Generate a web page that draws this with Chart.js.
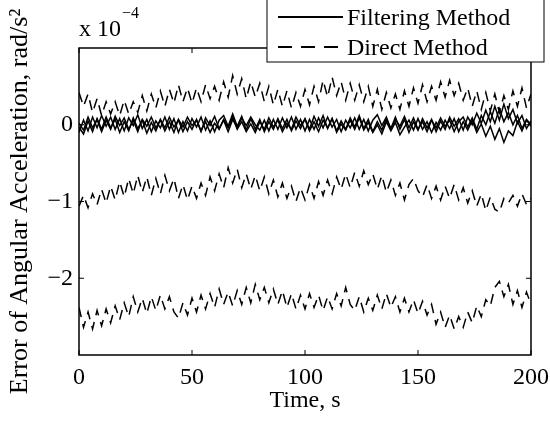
<!DOCTYPE html>
<html>
<head>
<meta charset="utf-8">
<script src="https://cdn.jsdelivr.net/npm/chart.js@4.4.0/dist/chart.umd.min.js"></script>
<style>
  html, body { margin: 0; padding: 0; background: #fff; }
</style>
</head>
<body>
<canvas id="grafico" width="550" height="422"></canvas>
<script>
// tempo (s)
const tempo = [
  0, 2, 4, 6, 8, 10, 12, 14, 16, 18,
  20, 22, 24, 26, 28, 30, 32, 34, 36, 38,
  40, 42, 44, 46, 48, 50, 52, 54, 56, 58,
  60, 62, 64, 66, 68, 70, 72, 74, 76, 78,
  80, 82, 84, 86, 88, 90, 92, 94, 96, 98,
  100, 102, 104, 106, 108, 110, 112, 114, 116, 118,
  120, 122, 124, 126, 128, 130, 132, 134, 136, 138,
  140, 142, 144, 146, 148, 150, 152, 154, 156, 158,
  160, 162, 164, 166, 168, 170, 172, 174, 176, 178,
  180, 182, 184, 186, 188, 190, 192, 194, 196, 198,
  200
];

// erro em unidades de 1e-4 rad/s^2 - metodo direto (tracejado)
const direto1 = [
  0.42, 0.24, 0.40, 0.16, 0.34, 0.12, 0.30, 0.14, 0.30, 0.12,
  0.32, 0.14, 0.30, 0.16, 0.38, 0.18, 0.40, 0.22, 0.44, 0.24,
  0.46, 0.28, 0.52, 0.30, 0.48, 0.28, 0.48, 0.30, 0.52, 0.34,
  0.50, 0.32, 0.56, 0.36, 0.64, 0.40, 0.60, 0.34, 0.56, 0.36,
  0.54, 0.30, 0.50, 0.26, 0.46, 0.24, 0.44, 0.22, 0.42, 0.24,
  0.46, 0.26, 0.50, 0.30, 0.58, 0.36, 0.62, 0.38, 0.56, 0.32,
  0.54, 0.32, 0.52, 0.30, 0.50, 0.24, 0.46, 0.20, 0.42, 0.22,
  0.40, 0.20, 0.44, 0.24, 0.48, 0.28, 0.52, 0.30, 0.50, 0.32,
  0.56, 0.36, 0.58, 0.38, 0.54, 0.32, 0.48, 0.24, 0.44, 0.20,
  0.42, 0.18, 0.40, 0.16, 0.38, 0.20, 0.44, 0.24, 0.48, 0.22,
  0.40
];
const direto2 = [
  -1.06, -0.92, -1.08, -0.90, -1.04, -0.84, -1.02, -0.80, -0.98, -0.74,
  -0.94, -0.70, -0.90, -0.66, -0.88, -0.68, -0.92, -0.70, -0.90, -0.66,
  -0.86, -0.70, -0.96, -0.78, -0.98, -0.80, -0.96, -0.76, -0.92, -0.68,
  -0.86, -0.64, -0.82, -0.56, -0.76, -0.58, -0.82, -0.64, -0.84, -0.66,
  -0.86, -0.68, -0.90, -0.72, -0.94, -0.76, -0.96, -0.80, -1.00, -0.82,
  -0.98, -0.78, -0.96, -0.74, -0.92, -0.72, -0.90, -0.68, -0.84, -0.64,
  -0.82, -0.62, -0.80, -0.60, -0.78, -0.64, -0.84, -0.66, -0.88, -0.72,
  -0.92, -0.76, -0.98, -0.78, -0.70, -0.86, -0.94, -0.78, -0.96, -0.80,
  -0.98, -0.80, -0.96, -0.78, -0.98, -0.82, -1.02, -0.86, -1.06, -0.90,
  -1.12, -0.94, -1.10, -1.14, -0.96, -1.02, -0.92, -1.06, -0.90, -1.04,
  -0.96
];
const direto3 = [
  -2.38, -2.64, -2.44, -2.66, -2.42, -2.62, -2.40, -2.58, -2.36, -2.54,
  -2.32, -2.50, -2.24, -2.44, -2.26, -2.46, -2.24, -2.42, -2.22, -2.40,
  -2.24, -2.44, -2.52, -2.32, -2.48, -2.26, -2.44, -2.22, -2.40, -2.20,
  -2.38, -2.14, -2.34, -2.18, -2.36, -2.16, -2.34, -2.12, -2.32, -2.08,
  -2.28, -2.12, -2.32, -2.14, -2.34, -2.16, -2.38, -2.20, -2.40, -2.22,
  -2.40, -2.20, -2.38, -2.22, -2.42, -2.24, -2.40, -2.20, -2.36, -2.12,
  -2.34, -2.42, -2.24, -2.44, -2.26, -2.42, -2.22, -2.40, -2.20, -2.38,
  -2.24, -2.44, -2.26, -2.44, -2.28, -2.46, -2.30, -2.48, -2.34, -2.60,
  -2.44, -2.64, -2.48, -2.66, -2.50, -2.64, -2.44, -2.58, -2.36, -2.50,
  -2.28, -2.36, -2.12, -2.04, -2.24, -2.08, -2.34, -2.16, -2.38, -2.18,
  -2.34
];

// metodo de filtragem (linha cheia)
const filtro1 = [
  -0.10, 0.06, -0.08, 0.10, -0.04, 0.12, -0.02, 0.10, -0.06, 0.08,
  -0.08, 0.09, -0.01, 0.13, -0.05, 0.07, -0.09, 0.05, -0.04, 0.10,
  -0.06, 0.08, -0.10, 0.04, -0.08, 0.08, -0.03, 0.10, -0.07, 0.05,
  -0.09, 0.06, 0.12, -0.02, 0.14, -0.02, 0.11, -0.07, 0.08, -0.06,
  0.07, -0.09, 0.04, -0.06, 0.08, -0.05, 0.07, -0.08, 0.05, -0.05,
  0.08, -0.06, 0.11, -0.02, 0.12, -0.05, 0.08, -0.08, 0.05, -0.06,
  0.09, -0.03, 0.12, -0.05, 0.07, -0.09, 0.04, -0.07, 0.08, -0.05,
  0.10, -0.06, 0.07, -0.10, 0.04, -0.07, 0.08, -0.04, 0.07, -0.09,
  0.05, -0.06, 0.10, -0.02, 0.08, -0.07, 0.10, 0.00, 0.15, 0.02,
  0.19, 0.04, 0.24, 0.06, 0.27, 0.08, 0.20, 0.02, 0.12, -0.05,
  0.05
];
const filtro2 = [
  -0.03, -0.12, 0.05, -0.09, 0.08, -0.06, 0.10, -0.04, 0.07, -0.10,
  0.04, -0.08, 0.09, -0.05, 0.06, -0.11, 0.03, -0.08, 0.07, -0.04,
  0.10, -0.03, 0.06, -0.09, 0.04, -0.06, 0.07, -0.08, 0.04, -0.10,
  0.02, -0.06, 0.07, -0.04, 0.10, -0.06, 0.04, -0.09, 0.01, -0.10,
  0.04, -0.06, 0.09, -0.03, 0.06, -0.09, 0.02, -0.06, 0.10, -0.01,
  0.07, -0.08, 0.04, -0.09, 0.06, -0.04, 0.08, -0.10, 0.01, -0.07,
  0.06, -0.06, 0.09, -0.07, 0.03, -0.10, 0.00, -0.12, 0.04, -0.08,
  0.03, -0.13, -0.03, 0.06, -0.07, 0.08, -0.06, 0.04, -0.10, 0.03,
  -0.07, 0.06, -0.05, 0.08, -0.09, 0.04, -0.07, 0.06, -0.10, 0.01,
  -0.15, -0.02, -0.19, -0.05, -0.23, -0.08, -0.14, 0.04, -0.08, 0.06,
  -0.02
];
const filtro3 = [
  0.02, -0.07, 0.10, -0.04, 0.07, -0.09, 0.06, -0.06, 0.11, -0.01,
  0.09, -0.06, 0.06, -0.09, 0.07, -0.02, 0.10, -0.04, 0.06, -0.08,
  0.04, -0.10, 0.07, -0.03, 0.10, -0.01, 0.06, -0.09, 0.09, -0.01,
  0.11, -0.05, 0.06, -0.09, 0.07, -0.04, 0.09, -0.01, 0.10, 0.00,
  -0.07, 0.06, -0.08, 0.07, -0.06, 0.09, -0.04, 0.10, -0.06, 0.07,
  -0.08, 0.07, -0.06, 0.09, -0.04, 0.10, -0.03, 0.07, -0.09, 0.06,
  -0.04, 0.09, -0.06, 0.07, -0.08, 0.06, 0.13, -0.01, 0.10, -0.06,
  0.07, -0.02, 0.11, -0.04, 0.09, -0.06, 0.04, -0.09, 0.06, -0.04,
  0.09, -0.02, 0.06, -0.09, 0.04, 0.10, -0.03, 0.09, -0.06, 0.12,
  0.00, 0.17, 0.02, 0.21, 0.04, 0.16, 0.00, 0.12, -0.05, 0.07,
  0.00
];

const ticksX = [0, 50, 100, 150, 200];
const ticksY = [-2, -1, 0];
const legendaTextos = ["Filtering Method", "Direct Method"];

const fonte = "Liberation Serif";

function pontos(valores) {
  let lista = [];
  for (let i = 0; i < valores.length; i++) {
    lista.push({ x: tempo[i], y: valores[i] });
  }
  return lista;
}

function serie(valores, tracejado) {
  return {
    data: pontos(valores),
    borderColor: "#000",
    borderWidth: 1.5,
    borderDash: tracejado ? [10, 7] : [],
    pointRadius: 0,
    tension: 0,
    fill: false,
  };
}

// moldura, marcas internas, legenda e expoente
const extras = {
  id: "extras",
  afterDatasetsDraw(chart) {
    const ctx = chart.ctx;
    const a = chart.chartArea;
    const sx = chart.scales.x;
    const sy = chart.scales.y;
    ctx.save();
    ctx.strokeStyle = "#000";
    ctx.lineWidth = 1.5;
    ctx.setLineDash([]);
    ctx.strokeRect(a.left, a.top, a.right - a.left, a.bottom - a.top);
    ctx.lineWidth = 1;
    ctx.beginPath();
    ticksX.forEach((v) => {
      const px = sx.getPixelForValue(v);
      ctx.moveTo(px, a.bottom); ctx.lineTo(px, a.bottom - 5);
      ctx.moveTo(px, a.top); ctx.lineTo(px, a.top + 5);
    });
    ticksY.forEach((v) => {
      const py = sy.getPixelForValue(v);
      ctx.moveTo(a.left, py); ctx.lineTo(a.left + 5, py);
      ctx.moveTo(a.right, py); ctx.lineTo(a.right - 5, py);
    });
    ctx.stroke();
    ctx.restore();
  },
  afterDraw(chart) {
    const ctx = chart.ctx;
    const a = chart.chartArea;
    ctx.save();
    ctx.fillStyle = "#000";
    ctx.textBaseline = "alphabetic";
    ctx.textAlign = "left";
    ctx.font = `24px "${fonte}"`;
    ctx.fillText("x 10", a.left, 36);
    const w = ctx.measureText("x 10").width;
    ctx.font = `16px "${fonte}"`;
    ctx.fillText("\u22124", a.left + w + 1, 18);

    // caixa da legenda
    const bx = 267, by = -2, bw = 277, bh = 64;
    ctx.fillStyle = "#fff";
    ctx.fillRect(bx, by, bw, bh);
    ctx.strokeStyle = "#000";
    ctx.lineWidth = 1;
    ctx.strokeRect(bx, by, bw, bh);
    ctx.lineWidth = 2;
    ctx.beginPath();
    ctx.moveTo(278, 17); ctx.lineTo(343, 17);
    ctx.stroke();
    ctx.setLineDash([14, 9]);
    ctx.beginPath();
    ctx.moveTo(278, 47); ctx.lineTo(343, 47);
    ctx.stroke();
    ctx.setLineDash([]);
    ctx.fillStyle = "#000";
    ctx.font = `24px "${fonte}"`;
    ctx.fillText(legendaTextos[0], 347, 25);
    ctx.fillText(legendaTextos[1], 347, 55);
    ctx.restore();
  },
};

const config = {
  type: "line",
  data: {
    datasets: [
      serie(direto1, true),
      serie(direto2, true),
      serie(direto3, true),
      serie(filtro1, false),
      serie(filtro2, false),
      serie(filtro3, false),
    ],
  },
  options: {
    responsive: false,
    animation: false,
    layout: { padding: { top: 48, right: 19, left: 0, bottom: 0 } },
    plugins: {
      legend: { display: false },
      tooltip: { enabled: false },
    },
    scales: {
      x: {
        type: "linear",
        min: 0,
        max: 200,
        afterFit: (s) => { s.height = 67; s.paddingLeft = 0; s.paddingRight = 0; },
        afterBuildTicks: (s) => { s.ticks = ticksX.map((v) => ({ value: v })); },
        grid: { display: false, drawTicks: false },
        border: { display: false },
        ticks: {
          color: "#000",
          padding: 8,
          maxRotation: 0,
          font: { family: fonte, size: 24 },
        },
        title: {
          display: true,
          text: "Time, s",
          color: "#000",
          padding: { top: 0, bottom: 7 },
          font: { family: fonte, size: 24 },
        },
      },
      y: {
        type: "linear",
        min: -3,
        max: 1,
        afterFit: (s) => { s.width = 79; },
        afterBuildTicks: (s) => { s.ticks = ticksY.map((v) => ({ value: v })); },
        grid: { display: false, drawTicks: false },
        border: { display: false },
        ticks: {
          color: "#000",
          padding: 6,
          font: { family: fonte, size: 24 },
          callback: (v) => String(v).replace("-", "\u2212"),
        },
        title: {
          display: true,
          text: "Error of Angular Acceleration, rad/s\u00b2",
          color: "#000",
          padding: { top: 5, bottom: 0 },
          font: { family: fonte, size: 26 },
        },
      },
    },
  },
  plugins: [extras],
};

let myChart = new Chart(document.getElementById("grafico"), config);
</script>
</body>
</html>
